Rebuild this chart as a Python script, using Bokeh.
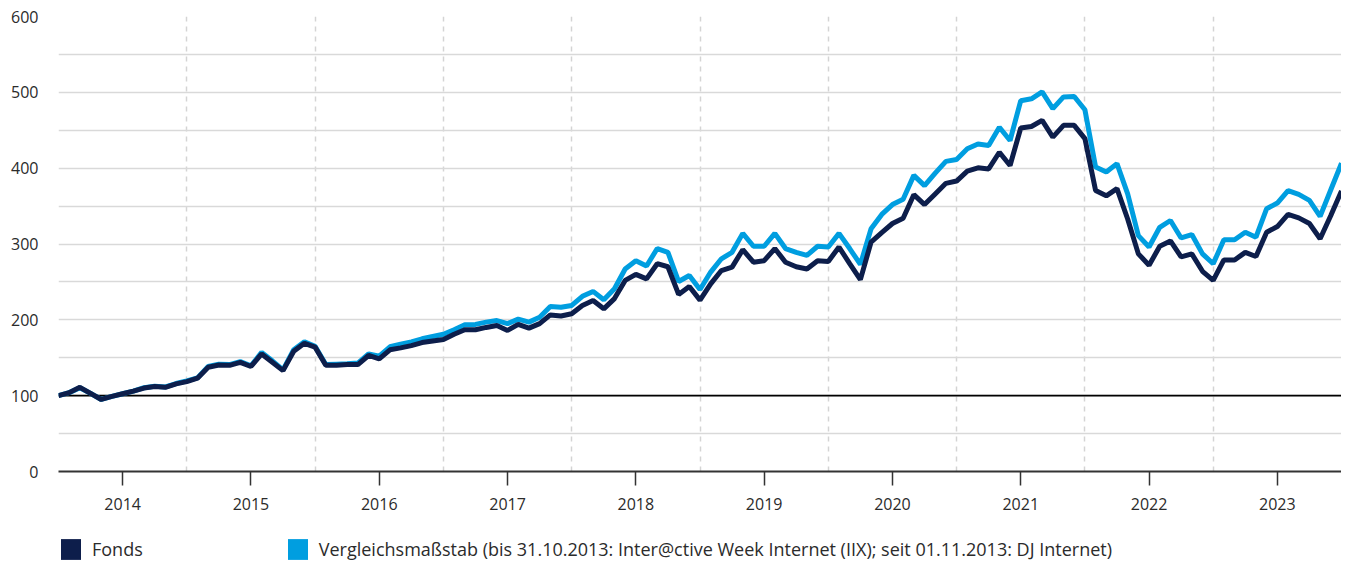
from bokeh.plotting import figure
from bokeh.layouts import column
from bokeh.models import (FixedTicker, SingleIntervalTicker, Span, Legend,
                          LegendItem, Range1d, ColumnDataSource)
from bokeh.embed import file_html
from bokeh.resources import INLINE

# ---- data (month-end values, Dec 2013 = 100) ----
years = [2014, 2015, 2016, 2017, 2018, 2019, 2020, 2021, 2022, 2023]

fonds = [
    100, 104, 111, 103, 95, 99, 102.5, 106, 110, 112, 111, 115.5, 118.5, 123, 137.5,
    140.5, 140, 144, 138.5, 155, 144, 133, 158.5, 169, 164, 140, 140, 141, 141, 153,
    148.5, 160.5, 163, 166, 170, 172, 174, 181, 187, 187, 190,
    192.5, 186, 194, 189, 195, 206.5, 205, 208, 219, 225.5, 214.5, 228, 252, 260, 254,
    274, 270, 233.5, 244, 226,
    247.5, 265, 269.5, 292.5, 276, 278, 294, 276, 270, 267, 278, 277, 296, 274, 253,
    302.5, 315, 327, 334, 365,
    352, 366, 380, 383, 396, 400.5, 399, 421, 403.5, 453, 455, 463, 441, 456.5, 456.5,
    439, 370.5, 363.5, 373, 333,
    287, 272, 297, 304, 283, 287, 264, 252, 279, 279, 289, 283.5, 315.5, 323, 339,
    334.5, 327, 307, 337.5, 370,
]

benchmark = [
    100, 104, 110.5, 103, 95, 99, 102.5, 106, 110.5, 112.5, 111.5, 116, 119.5, 123.5, 138.5,
    141.5, 141, 145, 139.5, 157, 146, 134, 160.5, 171, 165, 141, 141.5, 142, 143, 155,
    152, 164.5, 168, 171, 175, 178, 181, 187, 193.5, 194, 197,
    199, 195, 201, 197, 203.5, 217.5, 216.5, 219, 231, 237.5, 226.5, 241, 267, 278, 271,
    294, 289, 250.5, 258.5, 240,
    263, 280.5, 289, 314, 297, 297, 314, 294, 289, 285, 297, 296, 314, 294, 273,
    320, 339, 352, 359, 390.5,
    377, 393.5, 409, 411.5, 425.5, 432, 430, 454, 436.5, 489, 491.5, 500.5, 478.5, 494, 494.5,
    477, 401.5, 395, 406, 366,
    311, 296, 322, 331, 308, 312.5, 287, 274, 305.5, 305.5, 315.5, 309, 346.5, 354, 370.5,
    365.5, 357.5, 336.5, 371.5, 406.5,
]

months = list(range(len(fonds)))
label_fonds = "Fonds"
label_bench = ("Vergleichsmaßstab (bis 31.10.2013: Inter@ctive Week Internet (IIX); "
               "seit 01.11.2013: DJ Internet)")

DARK = "#0d1e4b"
BLUE = "#009ee0"
FONT = "Open Sans"
TXT = "#2b2b2b"
W = 1341
NAN = float("nan")

src = ColumnDataSource(dict(m=months, fonds=fonds, bench=benchmark))

p = figure(width=W, height=520,
           x_range=Range1d(0, len(months) - 1), y_range=Range1d(0, 600),
           output_backend="svg", toolbar_location=None,
           min_border_left=58, min_border_right=0, min_border_top=16,
           min_border_bottom=49)
p.outline_line_color = None
p.background_fill_color = "white"
p.border_fill_color = "white"

# grids
p.ygrid.ticker = SingleIntervalTicker(interval=50)
p.ygrid.grid_line_color = "#d9d9d9"
p.ygrid.grid_line_width = 1.5

year_starts = [12 * i for i in range(1, len(years))]
year_mids = [12 * i + 6 for i in range(len(years))]
p.xgrid.ticker = FixedTicker(ticks=year_starts)
p.xgrid.grid_line_color = "#d4d4d4"
p.xgrid.grid_line_width = 1.5
p.xgrid.grid_line_dash = "5 5"

# baseline at 100
p.add_layout(Span(location=100, dimension="width", line_color="black",
                  line_width=1.6, level="underlay"))

# series
p.line("m", "bench", source=src, line_color=BLUE, line_width=5)
p.line("m", "fonds", source=src, line_color=DARK, line_width=5)

# axes
xa = p.xaxis[0]
xa.ticker = FixedTicker(ticks=year_mids)
xa.major_label_overrides = {t: str(y) for t, y in zip(year_mids, years)}
xa.axis_line_color = "#333333"
xa.axis_line_width = 2
xa.major_tick_in = 0
xa.major_tick_out = 14
xa.major_tick_line_color = "#333333"
xa.major_tick_line_width = 1.5
xa.minor_tick_line_color = None
xa.major_label_standoff = 12
xa.major_label_text_font = FONT
xa.major_label_text_font_size = "16px"
xa.major_label_text_color = TXT

ya = p.yaxis[0]
ya.ticker = SingleIntervalTicker(interval=100)
ya.axis_line_color = None
ya.major_tick_line_color = None
ya.minor_tick_line_color = None
ya.major_tick_in = 0
ya.major_tick_out = 0
ya.major_label_standoff = 16
ya.major_label_text_font = FONT
ya.major_label_text_font_size = "16px"
ya.major_label_text_color = TXT

# ---- legend strip below the chart ----
lf = figure(width=W, height=44, x_range=Range1d(0, 1), y_range=Range1d(0, 1),
            x_axis_type=None, y_axis_type=None,
            output_backend="svg", toolbar_location=None, min_border=0)
lf.outline_line_color = None
lf.xgrid.visible = False
lf.ygrid.visible = False
q1 = lf.quad(left=[NAN], right=[NAN], top=[NAN], bottom=[NAN],
             fill_color=DARK, line_color=None)
q2 = lf.quad(left=[NAN], right=[NAN], top=[NAN], bottom=[NAN],
             fill_color=BLUE, line_color=None)
legend = Legend(items=[LegendItem(label=label_fonds, renderers=[q1]),
                       LegendItem(label=label_bench, renderers=[q2])],
                orientation="horizontal", location=(0, 2),
                glyph_width=25, glyph_height=26, label_standoff=9,
                spacing=142, padding=0, margin=0,
                border_line_color=None, background_fill_alpha=0,
                label_text_font=FONT, label_text_font_size="18px",
                label_text_color=TXT, label_height=26)
lf.add_layout(legend, "center")

layout = column(p, lf, spacing=0)
open("out.html", "w").write(file_html(layout, INLINE))
